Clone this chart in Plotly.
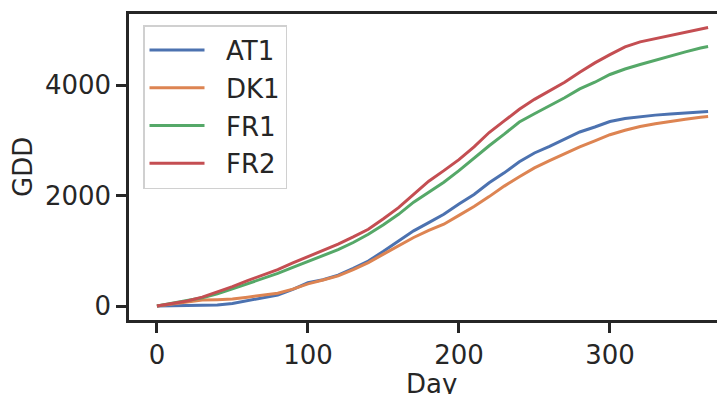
import plotly.graph_objects as go

days = [0, 10, 20, 30, 40, 50, 60, 70, 80, 90, 100, 110, 120, 130, 140, 150, 160, 170, 180,
        190, 200, 210, 220, 230, 240, 250, 260, 270, 280, 290, 300, 310, 320, 330, 340, 350, 360, 365]

at1 = [0, 3, 8, 12, 20, 45, 95, 140, 200, 300, 420, 475, 560, 680, 815, 990, 1180, 1360, 1510,
       1660, 1845, 2020, 2230, 2410, 2610, 2770, 2890, 3020, 3150, 3240, 3340, 3395, 3430, 3455, 3475, 3490, 3510, 3520]
dk1 = [0, 40, 80, 110, 115, 125, 160, 190, 230, 305, 400, 470, 545, 660, 785, 940, 1090, 1240, 1370,
       1480, 1640, 1800, 1980, 2170, 2340, 2500, 2630, 2760, 2880, 2990, 3100, 3180, 3250, 3300, 3345, 3380, 3415, 3430]
fr1 = [0, 45, 100, 150, 220, 310, 400, 490, 590, 700, 805, 905, 1020, 1150, 1300, 1470, 1660, 1880, 2060,
       2240, 2450, 2680, 2900, 3110, 3330, 3480, 3620, 3770, 3930, 4050, 4190, 4290, 4370, 4450, 4530, 4600, 4670, 4695]
fr2 = [0, 40, 90, 160, 250, 350, 460, 560, 660, 780, 890, 1000, 1120, 1250, 1390, 1580, 1780, 2020, 2260,
       2450, 2650, 2880, 3140, 3350, 3560, 3740, 3900, 4050, 4230, 4400, 4550, 4690, 4780, 4840, 4890, 4950, 5020, 5040]

names = ["AT1", "DK1", "FR1", "FR2"]
series = [at1, dk1, fr1, fr2]
colors = ["#4C72B0", "#DD8452", "#55A868", "#C44E52"]

xticks = [0, 100, 200, 300]
yticks = [0, 2000, 4000]

TXT = "#262626"
FONT = "DejaVu Sans"
FS = 26
PAD = "\u00a0\u00a0"

fig = go.Figure()
for n, s, c in zip(names, series, colors):
    fig.add_trace(go.Scatter(x=days, y=s, mode="lines", name=PAD + n, legendgroup=n,
                             line=dict(color=c, width=3)))

# page has an 8px body margin
OFF = 8
W, H = 725 - OFF, 394 - OFF
L, R, T, B = 121, 0, 6, 74
PW, PH = W - L - R, H - T - B


def px(xp):
    return (xp - OFF - L) / PW


def py(yp):
    return (OFF + H - B - yp) / PH


fig.update_layout(
    width=W, height=H,
    margin=dict(l=L, r=R, t=T, b=B, pad=0, autoexpand=False),
    paper_bgcolor="white", plot_bgcolor="white",
    font=dict(family=FONT, size=FS, color=TXT),
    showlegend=True,
    legend=dict(x=px(143), y=py(25), xanchor="left", yanchor="top",
                bgcolor="rgba(255,255,255,0.8)", bordercolor="#d0d0d0", borderwidth=1.5,
                font=dict(family=FONT, size=FS, color=TXT), tracegroupgap=1, itemwidth=55),
    xaxis=dict(range=[-18.5, 376.2], tickvals=xticks, ticktext=[str(v) for v in xticks],
               showgrid=False, zeroline=False, showline=True, linecolor=TXT, linewidth=2.5,
               mirror=True, ticks="outside", ticklen=10, tickwidth=2.5, tickcolor=TXT,
               tickfont=dict(family=FONT, size=FS, color=TXT), automargin=False),
    yaxis=dict(range=[-253, 5285], tickvals=yticks, ticktext=[str(v) for v in yticks],
               showgrid=False, zeroline=False, showline=True, linecolor=TXT, linewidth=2.5,
               mirror=False, ticks="outside", ticklen=10, tickwidth=2.5, tickcolor=TXT,
               tickfont=dict(family=FONT, size=FS, color=TXT), automargin=False),
    annotations=[
        dict(text="Day", xref="paper", yref="paper", x=px(431.5), y=py(367),
             xanchor="center", yanchor="top", showarrow=False, font=dict(family=FONT, size=FS, color=TXT)),
        dict(text="GDD", xref="paper", yref="paper", x=px(23), y=0.5,
             xanchor="center", yanchor="middle", textangle=-90, showarrow=False,
             font=dict(family=FONT, size=FS, color=TXT)),
    ],
)

fig.write_html("out.html")
